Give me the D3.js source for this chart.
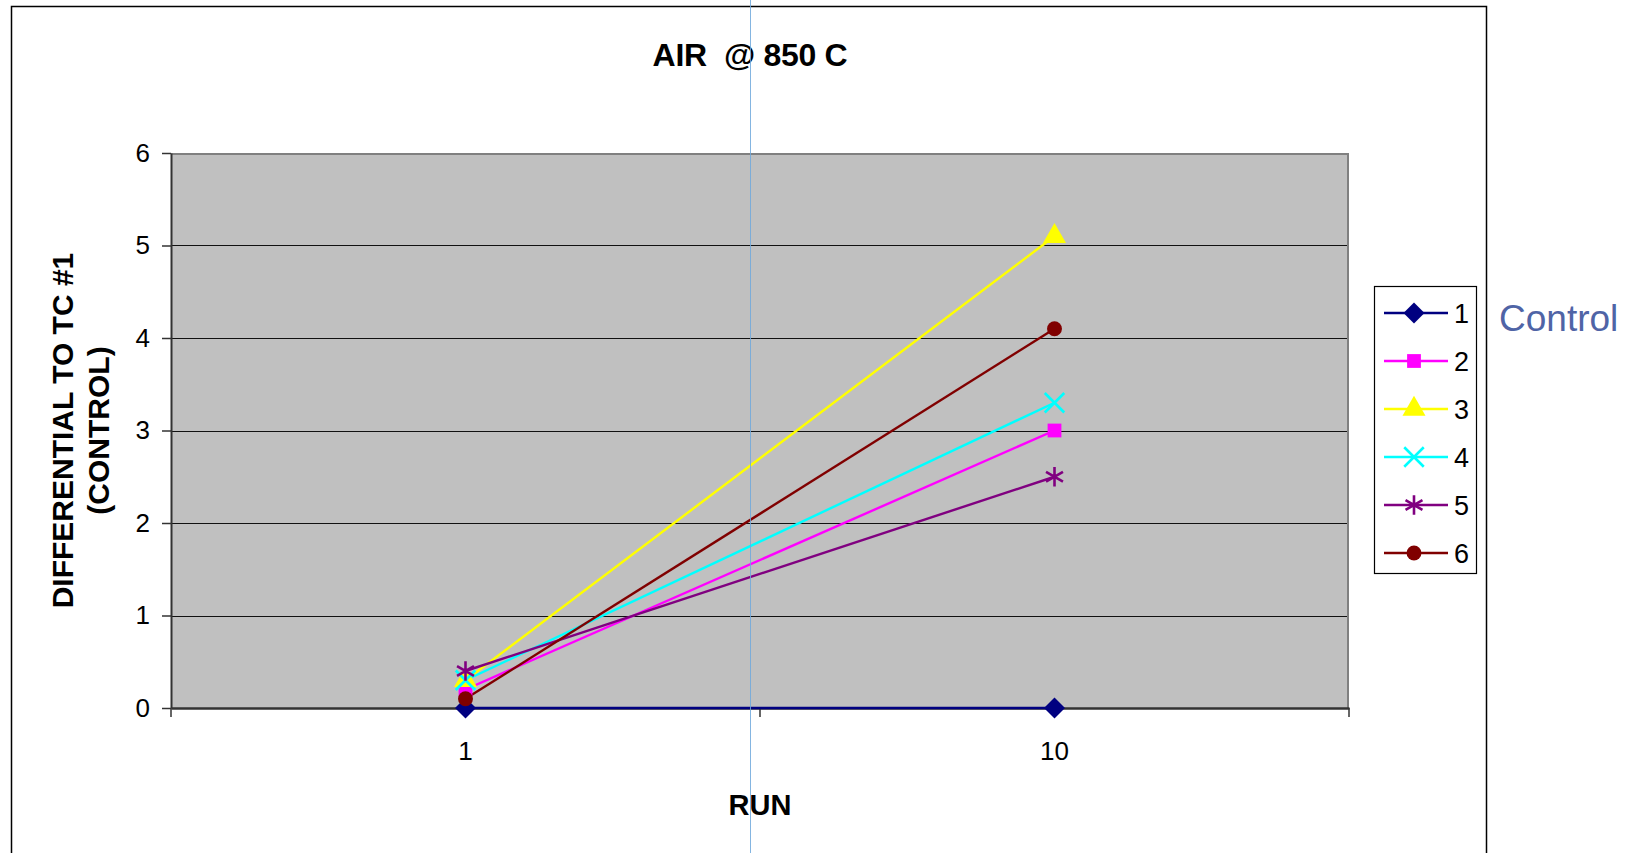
<!DOCTYPE html>
<html>
<head>
<meta charset="utf-8">
<script src="https://cdn.jsdelivr.net/npm/d3@7"></script>
<style>
  body { margin: 0; background: #fff; }
  svg { display: block; font-family: "Liberation Sans", Arial, sans-serif; }
</style>
</head>
<body>
<div id="chart"></div>
<script>
// chart values
var runs = ["1", "10"]
var seriesNames = ["1", "2", "3", "4", "5", "6"]
var run1Values = [0, 0.2, 0.3, 0.3, 0.4, 0.1]
var run10Values = [0, 3.0, 5.1, 3.3, 2.5, 4.1]
var yTicks = [0, 1, 2, 3, 4, 5, 6]
var seriesColors = ["#000080", "#ff00ff", "#ffff00", "#00ffff", "#800080", "#800000"]

var svgWidth = 1632
var svgHeight = 853

var plot = { left: 171, right: 1349, top: 153, bottom: 708 }

var svg = d3.select('#chart')
    .append('svg')
    .attr('width', svgWidth)
    .attr('height', svgHeight)

// outer chart frame (bottom edge is off the page)
svg.append('rect')
    .attr('x', 11.5).attr('y', 6.5)
    .attr('width', 1475).attr('height', 900)
    .attr('fill', '#fff')
    .attr('stroke', '#000')
    .attr('stroke-width', 1.5)

// scales
var xScale = d3.scaleBand()
    .domain(runs)
    .range([plot.left, plot.right])
    .padding(0)

var yScale = d3.scaleLinear()
    .domain([0, 6])
    .range([plot.bottom, plot.top])

var xPos = d => xScale(d) + xScale.bandwidth() / 2

// plot background
svg.append('rect')
    .attr('x', plot.left).attr('y', plot.top)
    .attr('width', plot.right - plot.left)
    .attr('height', plot.bottom - plot.top)
    .attr('fill', '#c0c0c0')

// gridlines
svg.append('g')
    .selectAll('line')
    .data(yTicks.filter(d => d > 0 && d < 6))
    .enter()
    .append('line')
    .attr('x1', plot.left).attr('x2', plot.right)
    .attr('y1', d => Math.round(yScale(d)) + 0.5)
    .attr('y2', d => Math.round(yScale(d)) + 0.5)
    .attr('stroke', '#111')
    .attr('stroke-width', 1)

// top and right plot border
svg.append('path')
    .attr('d', `M${plot.left},${plot.top + 1}H${plot.right - 1}V${plot.bottom}`)
    .attr('fill', 'none')
    .attr('stroke', '#808080')
    .attr('stroke-width', 2)

// y axis
var yAxis = d3.axisLeft(yScale)
    .tickValues(yTicks)
    .tickFormat(d3.format('d'))
    .tickSize(9)
    .tickPadding(12)
    .tickSizeOuter(0)

var yAxisG = svg.append('g')
    .attr('transform', `translate(${plot.left}, 0)`)
    .call(yAxis)
yAxisG.select('.domain').attr('stroke', '#333').attr('stroke-width', 2)
yAxisG.selectAll('.tick line').attr('stroke', '#333').attr('stroke-width', 1.5)
yAxisG.selectAll('.tick text')
    .attr('font-size', 26)
    .attr('font-family', '"Liberation Sans", Arial, sans-serif')
    .attr('fill', '#000')

// x axis: labels at category centers, ticks at category boundaries
var xAxis = d3.axisBottom(xScale)
    .tickSize(0)
    .tickPadding(34)
    .tickSizeOuter(0)

var xAxisG = svg.append('g')
    .attr('transform', `translate(0, ${plot.bottom})`)
    .call(xAxis)
xAxisG.select('.domain').attr('stroke', '#333').attr('stroke-width', 2.5)
xAxisG.selectAll('.tick text')
    .attr('font-size', 26)
    .attr('font-family', '"Liberation Sans", Arial, sans-serif')
    .attr('fill', '#000')

var boundaries = runs.map(d => xScale(d)).concat([xScale(runs[runs.length - 1]) + xScale.bandwidth()])
svg.append('g')
    .selectAll('line')
    .data(boundaries)
    .enter()
    .append('line')
    .attr('x1', d => d).attr('x2', d => d)
    .attr('y1', plot.bottom).attr('y2', plot.bottom + 9)
    .attr('stroke', '#333')
    .attr('stroke-width', 1.5)

// series
var symbolTypes = [
    d3.symbolDiamond2 || d3.symbolDiamond,
    d3.symbolSquare,
    d3.symbolTriangle,
    d3.symbolTimes || d3.symbolCross,
    d3.symbolAsterisk || d3.symbolCross,
    d3.symbolCircle
]
var symbolSizes = [280, 190, 230, 250, 270, 175]
var strokeSymbol = [false, false, false, true, true, false]

var seriesData = seriesNames.map(function(name, i) {
    return {
        name: name,
        color: seriesColors[i],
        index: i,
        values: [
            { run: runs[0], value: run1Values[i] },
            { run: runs[1], value: run10Values[i] }
        ]
    }
})

var line = d3.line()
    .x(d => xPos(d.run))
    .y(d => yScale(d.value))

function drawMarker(g, s, x, y) {
    var path = d3.symbol().type(symbolTypes[s.index]).size(symbolSizes[s.index])()
    var m = g.append('path')
        .attr('d', path)
        .attr('transform', `translate(${x}, ${y})`)
    if (strokeSymbol[s.index]) {
        m.attr('fill', 'none').attr('stroke', s.color).attr('stroke-width', 2.6)
    } else {
        m.attr('fill', s.color).attr('stroke', 'none')
    }
}

var seriesG = svg.append('g')
seriesData.forEach(function(s) {
    seriesG.append('path')
        .datum(s.values)
        .attr('d', line)
        .attr('fill', 'none')
        .attr('stroke', s.color)
        .attr('stroke-width', 2.4)
})
seriesData.forEach(function(s) {
    s.values.forEach(function(v) {
        drawMarker(seriesG, s, xPos(v.run), yScale(v.value))
    })
})

// title and axis titles
svg.append('text')
    .attr('x', 750)
    .attr('y', 66)
    .attr('text-anchor', 'middle')
    .attr('font-size', 32)
    .attr('font-weight', 'bold')
    .style('white-space', 'pre')
    .attr('letter-spacing', -0.3)
    .text('AIR  @ 850 C')

svg.append('text')
    .attr('x', (plot.left + plot.right) / 2)
    .attr('y', 815)
    .attr('text-anchor', 'middle')
    .attr('font-size', 29)
    .attr('font-weight', 'bold')
    .text('RUN')

var yTitle = svg.append('text')
    .attr('transform', `translate(0, ${(plot.top + plot.bottom) / 2}) rotate(-90)`)
    .attr('text-anchor', 'middle')
    .attr('font-size', 30)
    .attr('font-weight', 'bold')
yTitle.append('tspan').attr('x', 0).attr('y', 73).text('DIFFERENTIAL TO TC #1')
yTitle.append('tspan').attr('x', 0).attr('y', 109).text('(CONTROL)')

// legend
var legend = svg.append('g')
legend.append('rect')
    .attr('x', 1374.5).attr('y', 286.5)
    .attr('width', 102).attr('height', 287)
    .attr('fill', '#fff')
    .attr('stroke', '#000')
    .attr('stroke-width', 1.2)

seriesData.forEach(function(s, i) {
    var y = 313 + i * 48
    legend.append('line')
        .attr('x1', 1384).attr('x2', 1448)
        .attr('y1', y).attr('y2', y)
        .attr('stroke', s.color)
        .attr('stroke-width', 2.4)
    drawMarker(legend, s, 1414, y)
    legend.append('text')
        .attr('x', 1454)
        .attr('y', y)
        .attr('dy', '0.36em')
        .attr('font-size', 27)
        .text(s.name)
})

svg.append('text')
    .attr('x', 1499)
    .attr('y', 331)
    .attr('font-size', 37)
    .attr('fill', '#4f64a6')
    .text('Control')

// thin blue guide line crossing the picture
svg.append('line')
    .attr('x1', 750.5).attr('x2', 750.5)
    .attr('y1', 0).attr('y2', svgHeight)
    .attr('stroke', '#6fa8dc')
    .attr('stroke-opacity', 0.85)
    .attr('stroke-width', 1)
</script>
</body>
</html>
